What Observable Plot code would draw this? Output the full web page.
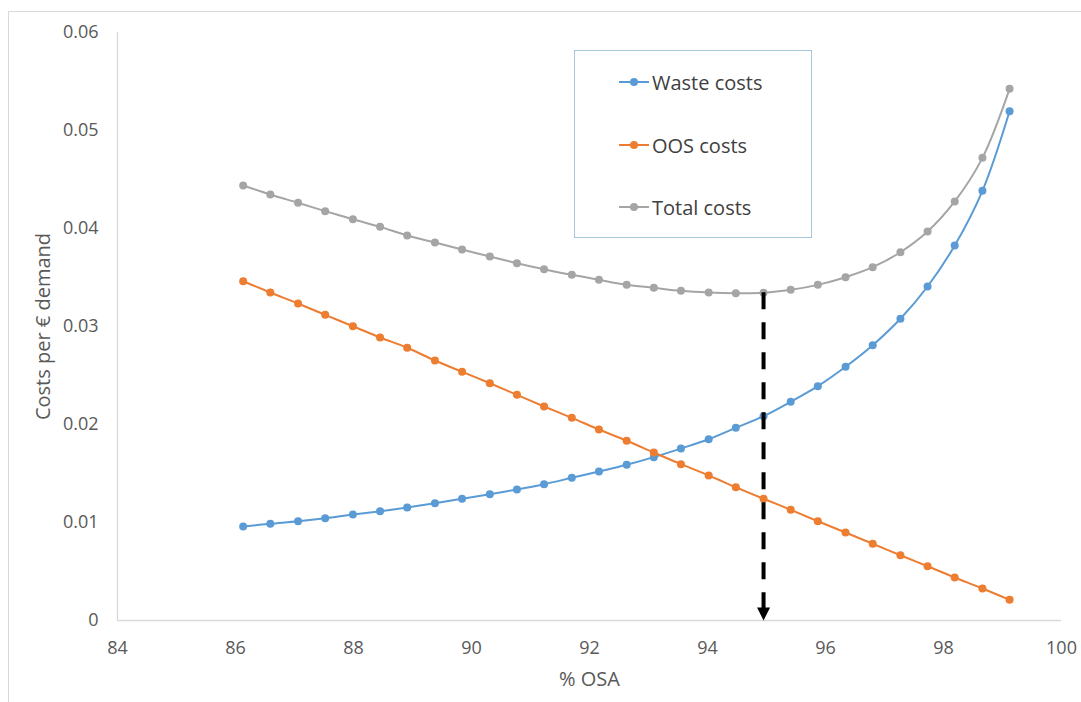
<!DOCTYPE html>
<html>
<head>
<meta charset="utf-8">
<script src="https://cdn.jsdelivr.net/npm/d3@7"></script>
<script src="https://cdn.jsdelivr.net/npm/@observablehq/plot@0.6"></script>
<style>
  body { margin: 0; background: #fff; }
  #wrap { position: relative; width: 1081px; height: 702px; overflow: hidden; font-family: "Open Sans", sans-serif; }
  #frame { position: absolute; left: 8px; top: 11px; width: 1200px; height: 800px; border: 1px solid #d9d9d9; }
  #chart { position: absolute; left: 0; top: 0; }
  #legend { position: absolute; left: 574px; top: 50px; width: 238px; height: 188px; border: 1px solid #a4c8da; box-sizing: border-box; background: #fff; }
  .item { position: absolute; left: 44px; height: 30px; display: flex; align-items: center; font-size: 20px; color: #404040; }
  .item svg { margin-right: 3px; }
</style>
</head>
<body>
<div id="wrap">
  <div id="frame"></div>
  <div id="chart"></div>
  <div id="legend"></div>
</div>
<script>
// ---- data ----
const osa = [86.13, 86.59, 87.06, 87.52, 87.99, 88.45, 88.91, 89.38, 89.84, 90.31,
             90.77, 91.23, 91.70, 92.16, 92.63, 93.09, 93.55, 94.02, 94.48, 94.95,
             95.41, 95.87, 96.34, 96.80, 97.27, 97.73, 98.19, 98.66, 99.12];
const wasteCosts = [0.00959, 0.00987, 0.01013, 0.01044, 0.01082, 0.01115, 0.01153, 0.01197, 0.01242, 0.01289,
                    0.01337, 0.01391, 0.01456, 0.01520, 0.01589, 0.01667, 0.01755, 0.01850, 0.01966, 0.02085,
                    0.02232, 0.02391, 0.02589, 0.02809, 0.03079, 0.03408, 0.03827, 0.04385, 0.05197];
const oosCosts = [0.03462, 0.03347, 0.03235, 0.03119, 0.03003, 0.02888, 0.02783, 0.02653, 0.02538, 0.02421,
                  0.02303, 0.02184, 0.02068, 0.01949, 0.01834, 0.01714, 0.01595, 0.01480, 0.01360, 0.01242,
                  0.01130, 0.01013, 0.00898, 0.00783, 0.00666, 0.00554, 0.00439, 0.00327, 0.00211];
const totalCosts = [0.04439, 0.04347, 0.04262, 0.04177, 0.04095, 0.04017, 0.03929, 0.03857, 0.03786, 0.03714,
                    0.03646, 0.03585, 0.03527, 0.03476, 0.03425, 0.03395, 0.03364, 0.03347, 0.03340, 0.03344,
                    0.03374, 0.03425, 0.03503, 0.03605, 0.03758, 0.03969, 0.04276, 0.04721, 0.05425];
const seriesNames = ["Waste costs", "OOS costs", "Total costs"];
const seriesColors = ["#5b9bd5", "#ed7d31", "#a5a5a5"];
const xTicks = [84, 86, 88, 90, 92, 94, 96, 98, 100];
const yTicks = [0, 0.01, 0.02, 0.03, 0.04, 0.05, 0.06];
const optimumOSA = 94.95;
const optimumCost = 0.03344;
const xTitle = "% OSA";
const yTitle = "Costs per € demand";

// ---- build table ----
const seriesValues = [wasteCosts, oosCosts, totalCosts];
const rows = [];
seriesNames.forEach((name, s) => {
  osa.forEach((x, i) => rows.push({series: name, x, y: seriesValues[s][i]}));
});
const optimum = [{x: optimumOSA, top: optimumCost}];

// downward filled triangle symbol (tip at anchor)
const downTriangle = {
  draw(context) {
    context.moveTo(-6.5, -13);
    context.lineTo(6.5, -13);
    context.lineTo(0, 0);
    context.closePath();
  }
};

const textColor = "#595959";
const marks = [
  Plot.ruleX([84], {stroke: "#d9d9d9", strokeWidth: 1.3}),
  Plot.ruleY([0], {stroke: "#d9d9d9", strokeWidth: 1.3})
];
seriesNames.forEach((name, s) => {
  const data = rows.filter(r => r.series === name);
  marks.push(Plot.line(data, {x: "x", y: "y", stroke: seriesColors[s], strokeWidth: 2, curve: "catmull-rom"}));
  marks.push(Plot.dot(data, {x: "x", y: "y", fill: seriesColors[s], r: 4}));
});
marks.push(
  Plot.ruleX(optimum, {x: "x", y1: "top", y2: 0, stroke: "#000", strokeWidth: 4, strokeDasharray: "17,13", insetBottom: 11}),
  Plot.dot(optimum, {x: "x", y: () => 0, symbol: downTriangle, fill: "#000", stroke: "none"}),
  Plot.text([xTitle], {frameAnchor: "bottom", dy: 65, fontSize: 20, fill: textColor}),
  Plot.text([yTitle], {frameAnchor: "left", dx: -74, rotate: -90, textAnchor: "middle", lineAnchor: "middle", fontSize: 20, fill: textColor})
);

const plot = Plot.plot({
  width: 1081,
  height: 702,
  marginLeft: 117,
  marginRight: 20,
  marginTop: 32,
  marginBottom: 82,
  style: {fontFamily: "'Open Sans', sans-serif", fontSize: "18px", color: textColor, background: "transparent", overflow: "visible"},
  x: {domain: [84, 100], ticks: xTicks, tickSize: 0, tickPadding: 21, label: null},
  y: {domain: [0, 0.06], ticks: yTicks, tickFormat: d => d === 0 ? "0" : d.toFixed(2), tickSize: 0, tickPadding: 19, label: null},
  marks
});
document.getElementById("chart").appendChild(plot);

// ---- legend ----
const legend = document.getElementById("legend");
const rowTops = [16, 79, 141];
seriesNames.forEach((name, s) => {
  const item = document.createElement("div");
  item.className = "item";
  item.style.top = rowTops[s] + "px";
  item.innerHTML = `<svg width="30" height="12"><line x1="0" x2="30" y1="6" y2="6" stroke="${seriesColors[s]}" stroke-width="2"/><circle cx="15" cy="6" r="4" fill="${seriesColors[s]}"/></svg><span>${name}</span>`;
  legend.appendChild(item);
});
</script>
</body>
</html>
